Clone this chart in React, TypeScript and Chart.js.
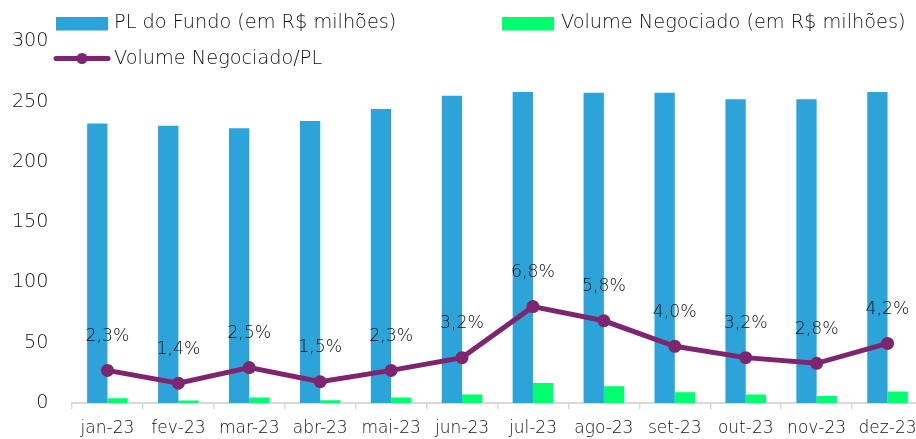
import React, { useEffect, useRef } from 'react';
import { Chart, registerables } from 'chart.js';

Chart.register(...registerables);

const categories = ['jan-23', 'fev-23', 'mar-23', 'abr-23', 'mai-23', 'jun-23', 'jul-23', 'ago-23', 'set-23', 'out-23', 'nov-23', 'dez-23'];
const plFundo = [232, 230, 228, 234, 244, 255, 258, 257.5, 257.5, 252, 252, 258];
const volumeNegociado = [4, 2, 4.5, 2.3, 4.5, 7, 16.5, 14, 9, 7, 5.8, 9.5];
const volumePL = [2.3, 1.4, 2.5, 1.5, 2.3, 3.2, 6.8, 5.8, 4.0, 3.2, 2.8, 4.2];
const yTicks = [0, 50, 100, 150, 200, 250, 300];

const legendLabels = ['PL do Fundo (em R$ milhões)', 'Volume Negociado (em R$ milhões)', 'Volume Negociado/PL'];

const BLUE = '#2CA3D9';
const GREEN = '#00FF6E';
const PURPLE = '#7F2570';
const TEXT = '#111111';
const FONT = '"DejaVu Sans", sans-serif';
const WEIGHT = '300';

const fmtPct = (v: number) => v.toFixed(1).replace('.', ',') + '%';

const labelsPlugin = {
  id: 'pctLabels',
  afterDatasetsDraw(chart: any) {
    const meta = chart.getDatasetMeta(2);
    const ctx = chart.ctx;
    ctx.save();
    ctx.font = `${WEIGHT} 17.3px ${FONT}`;
    ctx.fillStyle = TEXT;
    ctx.textAlign = 'center';
    ctx.textBaseline = 'middle';
    meta.data.forEach((pt: any, i: number) => {
      ctx.fillText(fmtPct(volumePL[i]), pt.x, pt.y - 34);
    });
    ctx.restore();
  },
};

const legendPlugin = {
  id: 'customLegend',
  afterDraw(chart: any) {
    const ctx = chart.ctx;
    ctx.save();
    ctx.font = `${WEIGHT} 19.3px ${FONT}`;
    ctx.textAlign = 'left';
    ctx.textBaseline = 'alphabetic';
    // item 1
    ctx.fillStyle = BLUE;
    ctx.fillRect(56, 17, 52, 13.5);
    ctx.fillStyle = TEXT;
    ctx.fillText(legendLabels[0], 114, 28);
    // item 2
    ctx.fillStyle = GREEN;
    ctx.fillRect(502, 17, 52, 13.5);
    ctx.fillStyle = TEXT;
    ctx.fillText(legendLabels[1], 561, 28);
    // item 3
    ctx.strokeStyle = PURPLE;
    ctx.lineWidth = 5;
    ctx.lineCap = 'round';
    ctx.beginPath();
    ctx.moveTo(56, 58.5);
    ctx.lineTo(108, 58.5);
    ctx.stroke();
    ctx.fillStyle = PURPLE;
    ctx.beginPath();
    ctx.arc(82, 58.5, 5.5, 0, Math.PI * 2);
    ctx.fill();
    ctx.fillStyle = TEXT;
    ctx.fillText(legendLabels[2], 114, 63.5);
    ctx.restore();
  },
};

export default function App() {
  const ref = useRef<HTMLCanvasElement | null>(null);

  useEffect(() => {
    if (!ref.current) return;
    const chart = new Chart(ref.current, {
      type: 'bar',
      data: {
        labels: categories,
        datasets: [
          {
            type: 'bar',
            label: legendLabels[0],
            data: plFundo,
            backgroundColor: BLUE,
            yAxisID: 'y',
            order: 1,
            categoryPercentage: 0.572,
            barPercentage: 1,
          },
          {
            type: 'bar',
            label: legendLabels[1],
            data: volumeNegociado,
            backgroundColor: GREEN,
            yAxisID: 'y',
            order: 2,
            categoryPercentage: 0.572,
            barPercentage: 1,
          },
          {
            type: 'line',
            label: legendLabels[2],
            data: volumePL,
            borderColor: PURPLE,
            backgroundColor: PURPLE,
            borderWidth: 5,
            pointRadius: 6.5,
            pointBackgroundColor: PURPLE,
            pointBorderWidth: 0,
            tension: 0,
            yAxisID: 'y1',
            order: 0,
          } as any,
        ],
      },
      options: {
        responsive: false,
        animation: false,
        devicePixelRatio: 1,
        layout: { padding: { top: 41.5, left: 0, right: 7, bottom: 0 } },
        plugins: {
          legend: { display: false },
          tooltip: { enabled: false },
          title: { display: false },
        },
        scales: {
          x: {
            offset: true,
            grid: {
              display: true,
              offset: true,
              drawOnChartArea: false,
              drawTicks: true,
              tickLength: 6,
              color: '#D9D9D9',
              lineWidth: 1.5,
            },
            border: { display: true, color: '#D9D9D9', width: 2 },
            ticks: {
              color: TEXT,
              font: { family: FONT, size: 17, weight: WEIGHT as any },
              padding: 9.5,
              maxRotation: 0,
              autoSkip: false,
            },
            afterFit: (scale: any) => {
              scale.height = 36;
            },
          },
          y: {
            min: 0,
            max: 300,
            afterBuildTicks: (scale: any) => {
              scale.ticks = yTicks.map((v) => ({ value: v }));
            },
            grid: { display: false, drawTicks: false, tickLength: 0 },
            border: { display: false },
            ticks: {
              color: TEXT,
              font: { family: FONT, size: 19.2, weight: WEIGHT as any },
              padding: 23.5,
            },
            afterFit: (scale: any) => {
              scale.width = 72;
            },
          },
          y1: {
            display: false,
            min: 0,
            max: 25.5,
          },
        },
      },
      plugins: [labelsPlugin, legendPlugin],
    });
    return () => chart.destroy();
  }, []);

  return (
    <div style={{ position: 'fixed', left: 0, top: 0, width: 916, height: 439, overflow: 'hidden', background: '#fff' }}>
      <canvas ref={ref} width={930} height={439} style={{ display: 'block', width: 930, height: 439 }} />
    </div>
  );
}
